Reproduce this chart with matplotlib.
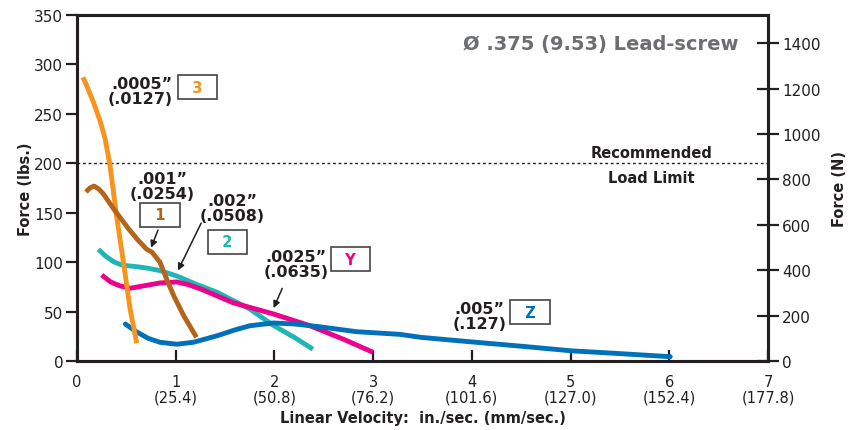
import matplotlib.pyplot as plt

plt.rcParams['font.family'] = ['DejaVu Sans']

INK = '#231f20'

# curve data: velocity (in/sec) vs force (lbs)
x_3 = [0.06, 0.1, 0.165, 0.23, 0.284, 0.334, 0.4, 0.47, 0.537, 0.605]
f_3 = [287, 278, 262, 244, 225, 198, 147, 100, 53, 18]

x_1 = [0.09, 0.13, 0.172, 0.22, 0.267, 0.37, 0.52, 0.62, 0.706, 0.76, 0.84, 0.92, 0.98, 1.08, 1.21]
f_1 = [171, 175, 177, 174, 169, 154, 134, 122, 113, 110, 100, 80, 66, 46, 24]

x_2 = [0.216, 0.29, 0.37, 0.43, 0.5, 0.6, 0.71, 0.84, 1.01, 1.2, 1.42, 1.75, 1.99, 2.2, 2.39]
f_2 = [113, 106, 100.5, 98, 96.5, 95.5, 94, 91.5, 86, 78, 69.5, 52.6, 36, 24, 12]

x_y = [0.25, 0.34, 0.436, 0.537, 0.7, 0.84, 1.01, 1.12, 1.25, 1.58, 1.99, 2.36, 2.7, 3.0]
f_y = [87, 80, 76, 73.6, 76.5, 79, 80, 77.5, 73, 59, 47.6, 35.7, 22, 8.8]

x_z = [0.49, 0.6, 0.72, 0.84, 1.01, 1.18, 1.42, 1.6, 1.75, 1.99, 2.2, 2.43, 2.83, 3.27, 3.48, 3.98, 4.5, 5.0, 5.5, 6.01]
f_z = [37.4, 29.7, 23, 19, 17, 19, 25.6, 31.5, 35.7, 38.5, 37.5, 35, 29.7, 27, 24, 19.5, 15, 10.4, 7.5, 4.4]

load_limit = 200

xticks = [0, 1, 2, 3, 4, 5, 6, 7]
xtick_labels = ['0', '1\n(25.4)', '2\n(50.8)', '3\n(76.2)', '4\n(101.6)',
                '5\n(127.0)', '6\n(152.4)', '7\n(177.8)']
yticks = [0, 50, 100, 150, 200, 250, 300, 350]
nticks = [0, 200, 400, 600, 800, 1000, 1200, 1400]

fig = plt.figure(figsize=(8.54, 4.31), dpi=100)
ax = fig.add_axes([0.0902, 0.160, 0.8091, 0.8029])

ax.plot(x_3, f_3, color='#f7941d', lw=3.5, solid_capstyle='butt', zorder=3)
ax.plot(x_1, f_1, color='#b3651b', lw=3.5, solid_capstyle='butt', zorder=3)
ax.plot(x_2, f_2, color='#20b5b6', lw=3.5, solid_capstyle='butt', zorder=2)
ax.plot(x_y, f_y, color='#ec008c', lw=3.5, solid_capstyle='butt', zorder=2)
ax.plot(x_z, f_z, color='#0070b8', lw=3.5, solid_capstyle='round', zorder=2)

ax.axhline(load_limit, color=INK, lw=1.0, ls=(0, (2, 2)), zorder=1)
ax.text(5.82, 211, 'Recommended', ha='center', va='center', fontsize=10.5,
        fontweight='bold', color=INK)
ax.text(5.82, 186, 'Load Limit', ha='center', va='center', fontsize=10.5,
        fontweight='bold', color=INK)

ax.text(6.7, 321, 'Ø .375 (9.53) Lead-screw', ha='right', va='center', fontsize=14,
        fontweight='bold', color='#6d6e71')

ax.set_xlim(0, 7)
ax.set_ylim(0, 350)
ax.set_xticks(xticks)
ax.set_xticklabels(xtick_labels, fontsize=10.5, color=INK, linespacing=1.08)
ax.set_yticks(yticks)
ax.set_yticklabels([str(v) for v in yticks], fontsize=11, color=INK)
ax.tick_params(axis='x', direction='in', length=8, width=1.6, color=INK, pad=9)
ax.tick_params(axis='y', direction='out', length=8, width=1.6, color=INK, pad=2)
for s in ax.spines.values():
    s.set_linewidth(2.2)
    s.set_color(INK)

ax.set_ylabel('Force (lbs.)', fontsize=10.5, fontweight='bold', color=INK, labelpad=1)
ax.set_xlabel('Linear Velocity:  in./sec. (mm/sec.)', fontsize=10.5, fontweight='bold',
              color=INK, labelpad=4)

ax2 = ax.twinx()
ax2.set_ylim(0, 1524)
ax2.set_yticks(nticks)
ax2.set_yticklabels([str(v) for v in nticks], fontsize=11, color=INK)
ax2.tick_params(axis='y', direction='inout', length=16, width=1.6, color=INK, pad=2)
for s in ax2.spines.values():
    s.set_linewidth(2.2)
    s.set_color(INK)
ax2.set_ylabel('Force (N)', fontsize=10.5, fontweight='bold', color=INK, labelpad=8)

# annotations: pitch text, box label, arrows
lbl = dict(fontsize=11.5, fontweight='bold', color=INK, linespacing=1.0)
box = dict(boxstyle='square,pad=0.3', fc='white', ec='#444444', lw=1.2)


def tag(x, y, s, color):
    ax.text(x, y, '  ' + s + '  ', ha='center', va='center', fontsize=10.5,
            fontweight='bold', color=color, bbox=box)


ax.text(0.97, 273, '.0005”\n(.0127)', ha='right', va='center', **lbl)
tag(1.22, 277, '3', '#f7941d')

ax.text(0.86, 177, '.001”\n(.0254)', ha='center', va='center', **lbl)
tag(0.84, 148, '1', '#b3651b')
ax.annotate('', xy=(0.74, 112), xytext=(0.83, 135),
            arrowprops=dict(arrowstyle='-|>', color=INK, lw=1.1, mutation_scale=10))

ax.text(1.57, 155, '.002”\n(.0508)', ha='center', va='center', **lbl)
tag(1.525, 120.5, '2', '#20b5b6')
ax.annotate('', xy=(1.01, 89), xytext=(1.27, 142),
            arrowprops=dict(arrowstyle='-|>', color=INK, lw=1.1, mutation_scale=10))

ax.text(2.22, 98, '.0025”\n(.0635)', ha='center', va='center', **lbl)
tag(2.77, 103, 'Y', '#ec008c')
ax.annotate('', xy=(1.98, 51), xytext=(2.09, 76),
            arrowprops=dict(arrowstyle='-|>', color=INK, lw=1.1, mutation_scale=10))

ax.text(4.08, 46, '.005”\n(.127)', ha='center', va='center', **lbl)
tag(4.59, 49.5, 'Z', '#0070b8')

fig.savefig('out.png', dpi=100)
